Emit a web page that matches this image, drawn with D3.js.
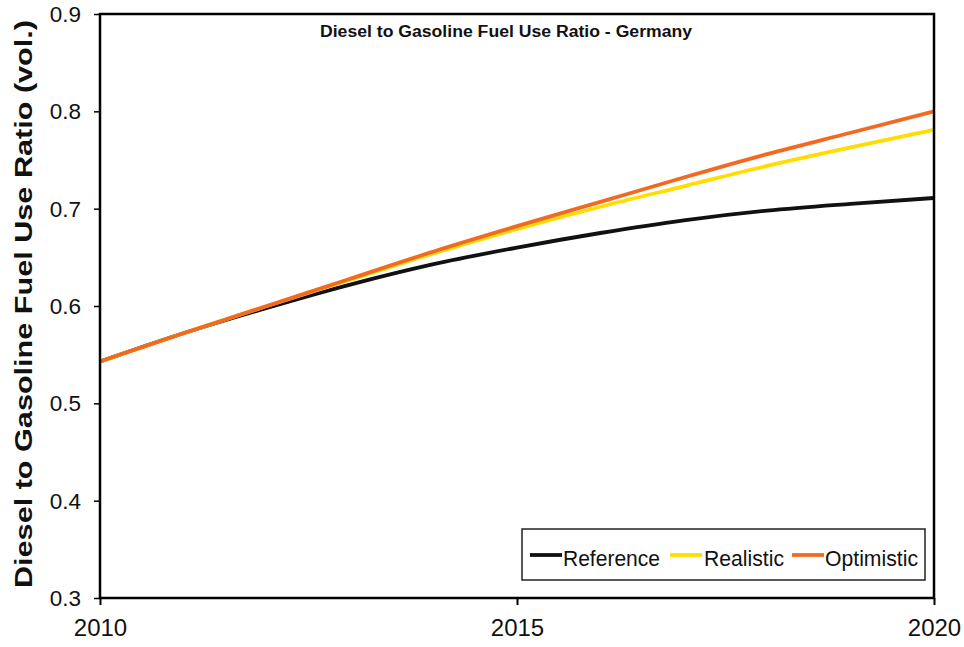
<!DOCTYPE html>
<html>
<head>
<meta charset="utf-8">
<script src="https://cdn.jsdelivr.net/npm/d3@7"></script>
<style>
  html, body { margin: 0; padding: 0; background: #fff; }
  svg { display: block; font-family: "Liberation Sans", Arial, sans-serif; }
</style>
</head>
<body>
<svg id="chart" width="964" height="647"></svg>
<script>
const years = [2010, 2011, 2012, 2013, 2014, 2015, 2016, 2017, 2018, 2019, 2020];
const referenceValues  = [0.543, 0.572, 0.598, 0.622, 0.643, 0.660, 0.675, 0.688, 0.698, 0.705, 0.711];
const realisticValues  = [0.543, 0.572, 0.600, 0.627, 0.654, 0.679, 0.702, 0.723, 0.744, 0.763, 0.781];
const optimisticValues = [0.543, 0.572, 0.600, 0.628, 0.656, 0.682, 0.707, 0.732, 0.756, 0.778, 0.800];
const seriesNames = ["Reference", "Realistic", "Optimistic"];
const seriesColors = ["#111111", "#FFDD00", "#F26A21"];
const xTicks = [2010, 2015, 2020];
const yTicks = [0.3, 0.4, 0.5, 0.6, 0.7, 0.8, 0.9];
const chartTitle = "Diesel to Gasoline Fuel Use Ratio - Germany";
const yAxisTitle = "Diesel to Gasoline Fuel Use Ratio (vol.)";

const svg = d3.select("#chart");
const m = { left: 100, top: 14, right: 934, bottom: 598 };

const x = d3.scaleLinear().domain([2010, 2020]).range([m.left, m.right]);
const y = d3.scaleLinear().domain([0.3, 0.9]).range([m.bottom, m.top]);

const seriesValues = [referenceValues, realisticValues, optimisticValues];

// lines
const line = d3.line().x(d => x(d[0])).y(d => y(d[1])).curve(d3.curveMonotoneX);
const g = svg.append("g");
seriesValues.forEach((vals, i) => {
  g.append("path")
    .datum(years.map((yr, j) => [yr, vals[j]]))
    .attr("fill", "none")
    .attr("stroke", seriesColors[i])
    .attr("stroke-width", 3.8)
    .attr("stroke-linejoin", "round")
    .attr("d", line);
});

// frame
svg.append("rect")
  .attr("x", m.left).attr("y", m.top)
  .attr("width", m.right - m.left).attr("height", m.bottom - m.top)
  .attr("fill", "none").attr("stroke", "#000").attr("stroke-width", 2.5);

// axes
const yAxis = d3.axisLeft(y).tickValues(yTicks).tickFormat(d3.format(".1f")).tickSize(6).tickPadding(13);
const yg = svg.append("g").attr("transform", `translate(${m.left},0)`).call(yAxis);
yg.select(".domain").remove();
yg.selectAll("line").attr("stroke", "#000").attr("stroke-width", 1.5);
yg.selectAll("text").attr("font-size", 22.5).attr("fill", "#111")
  .attr("font-family", "Liberation Sans, Arial, sans-serif").attr("dy", "0.34em");

const xAxis = d3.axisBottom(x).tickValues(xTicks).tickFormat(d3.format("d")).tickSize(7).tickPadding(14);
const xg = svg.append("g").attr("transform", `translate(0,${m.bottom})`).call(xAxis);
xg.select(".domain").remove();
xg.selectAll("line").attr("stroke", "#000").attr("stroke-width", 2);
xg.selectAll("text").attr("font-size", 24).attr("fill", "#111")
  .attr("font-family", "Liberation Sans, Arial, sans-serif");

// title
svg.append("text")
  .attr("x", 320).attr("y", 37)
  .attr("font-weight", "bold").attr("font-size", 16).attr("fill", "#111")
  .attr("textLength", 372).attr("lengthAdjust", "spacingAndGlyphs")
  .text(chartTitle);

// y axis title
svg.append("text")
  .attr("transform", `translate(32,588) rotate(-90)`)
  .attr("font-weight", "bold").attr("font-size", 23.5).attr("fill", "#111")
  .attr("textLength", 568).attr("lengthAdjust", "spacingAndGlyphs")
  .text(yAxisTitle);

// legend
const lg = svg.append("g");
lg.append("rect")
  .attr("x", 522).attr("y", 529).attr("width", 403).attr("height", 51)
  .attr("fill", "#fff").attr("stroke", "#222").attr("stroke-width", 1.5);
const legendItems = [
  { lx: 530, tx: 563, tw: 97 },
  { lx: 670, tx: 704, tw: 80 },
  { lx: 792, tx: 825, tw: 93 }
];
seriesNames.forEach((name, i) => {
  lg.append("line")
    .attr("x1", legendItems[i].lx).attr("x2", legendItems[i].lx + 32)
    .attr("y1", 555).attr("y2", 555)
    .attr("stroke", seriesColors[i]).attr("stroke-width", 3.8);
  lg.append("text")
    .attr("x", legendItems[i].tx).attr("y", 566)
    .attr("font-size", 21.5).attr("fill", "#111")
    .attr("textLength", legendItems[i].tw).attr("lengthAdjust", "spacingAndGlyphs")
    .text(name);
});
</script>
</body>
</html>
